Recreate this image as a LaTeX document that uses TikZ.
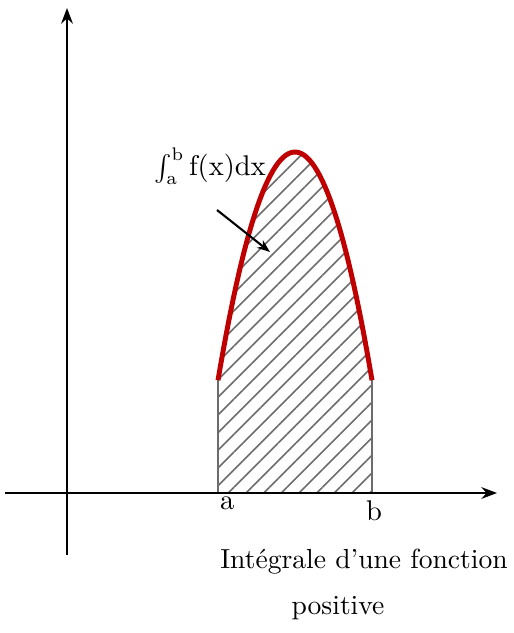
\documentclass[tikz,border=0pt]{standalone}
\usetikzlibrary{patterns.meta,arrows.meta}
\definecolor{curvered}{RGB}{190,0,0}
\begin{document}
\begin{tikzpicture}[x=0.0135cm,y=-0.0135cm,thick,every node/.style={font=\fontsize{10.6pt}{13pt}\selectfont}]
\useasboundingbox (0,0) rectangle (513,633);
\fill[pattern={Lines[angle=45,distance=4.8pt,line width=0.6pt]},pattern color=gray!85!black]
  (218,493) -- plot[domain=218:372,samples=60] (\x,{152+0.0385*(\x-295)^2}) -- (372,493) -- cycle;
\draw[gray!85!black] (218,380) -- (218,493);
\draw[gray!85!black] (372,380) -- (372,493);
\draw[-{Stealth[length=6pt]}] (5,493) -- (497,493);
\draw[-{Stealth[length=6pt]}] (67,555) -- (67,8);
\draw[curvered,line width=1.9pt] plot[domain=218:372,samples=60] (\x,{152+0.0385*(\x-295)^2});

\node (lbl) at (210,166) {$\int_{\mathrm{a}}^{\mathrm{b}} \mathrm{f}(\mathrm{x})\mathrm{dx}$};
\coordinate (arrS) at (217,210);
\coordinate (arrE) at (270,252);
\draw[-{Stealth[length=5pt]}] (arrS) -- (arrE);

\node (la) at (227,503) {$\mathrm{a}$};
\node (lb) at (374,511) {$\mathrm{b}$};
\node (cap1) at (364,562) {Intégrale d’une fonction};
\node (cap2) at (338,608) {positive};
\end{tikzpicture}
\end{document}
